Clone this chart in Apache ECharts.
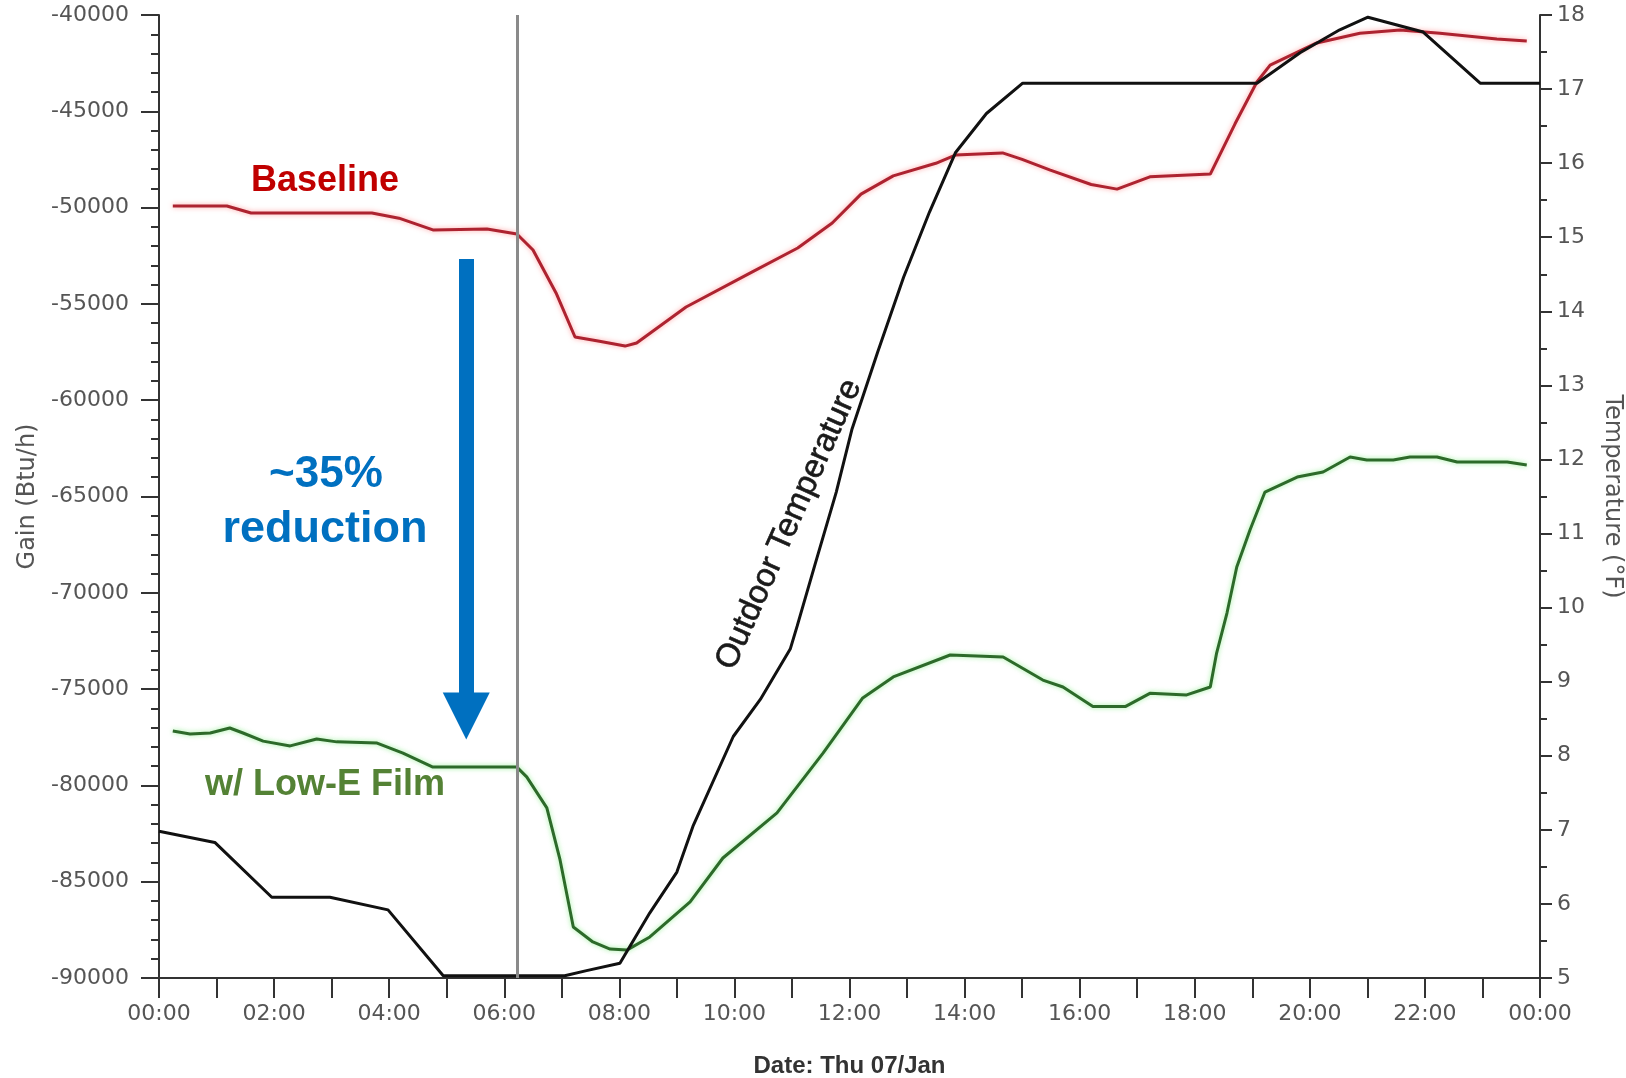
<!DOCTYPE html>
<html>
<head>
<meta charset="utf-8">
<title>Gain vs Outdoor Temperature</title>
<script src="https://cdn.jsdelivr.net/npm/echarts@6.0.0/dist/echarts.min.js"></script>
<style>
    html, body {margin: 0; padding: 0; background: #fff;}
    #chart {width: 1626px; height: 1078px;}
</style>
</head>
<body>
<div id="chart"></div>
<script>
    // 基准线 (Baseline) - 小时 / Btu/h
    var baseHours = [0.24, 1.18, 1.6, 3.7, 4.17, 4.76, 5.7, 6.22, 6.5, 6.9, 7.23, 7.63, 8.1, 8.3, 9.16,
        10.27, 11.1, 11.7, 12.2, 12.76, 13.5, 13.84, 14.66, 15.0, 15.49, 16.2, 16.65, 17.22, 18.27, 18.7,
        19.08, 19.31, 20.12, 20.87, 21.57, 22.26, 23.25, 23.77];
    var baseGain = [-49920, -49920, -50280, -50280, -50550, -51160, -51110, -51370, -52200, -54430, -56720,
        -56930, -57190, -57030, -55160, -53400, -52100, -50800, -49300, -48350, -47700, -47270, -47160,
        -47500, -48050, -48800, -49040, -48400, -48260, -45650, -43480, -42600, -41450, -40950, -40780,
        -40950, -41250, -41350];

    // Low-E 膜
    var lowHours = [0.24, 0.54, 0.89, 1.23, 1.46, 1.81, 2.28, 2.74, 3.09, 3.79, 4.24, 4.76, 6.22, 6.39,
        6.74, 6.97, 7.2, 7.54, 7.84, 8.13, 8.53, 9.23, 9.8, 10.74, 11.54, 12.23, 12.76, 13.75, 14.67, 15.36,
        15.71, 16.23, 16.8, 17.22, 17.86, 18.27, 18.38, 18.56, 18.73, 18.96, 19.22, 19.78, 20.23, 20.7,
        20.99, 21.45, 21.74, 22.21, 22.56, 23.43, 23.77];
    var lowGain = [-77180, -77330, -77280, -77020, -77280, -77700, -77950, -77590, -77740, -77800, -78320,
        -79050, -79050, -79560, -81170, -83870, -87350, -88130, -88500, -88550, -87870, -86050, -83770,
        -81430, -78320, -75460, -74370, -73230, -73330, -74530, -74890, -75900, -75900, -75220, -75300,
        -74890, -73130, -71050, -68660, -66740, -64770, -63990, -63730, -62950, -63100, -63100, -62950,
        -62950, -63210, -63210, -63360];

    // 室外温度 (°F)
    var tempHours = [0, 0.97, 1.96, 2.97, 3.98, 4.94, 7.05, 7.43, 8.01, 8.53, 9.0, 9.28, 9.98, 10.45,
        10.97, 11.09, 11.4, 11.77, 12.04, 12.49, 12.94, 13.39, 13.84, 14.38, 15.01, 19.08, 19.83, 20.52,
        21.01, 21.97, 22.96, 24];
    var tempF = [6.98, 6.83, 6.09, 6.09, 5.92, 5.03, 5.03, 5.1, 5.2, 5.88, 6.43, 7.05, 8.26, 8.76, 9.44,
        9.75, 10.58, 11.56, 12.4, 13.45, 14.46, 15.34, 16.14, 16.67, 17.08, 17.08, 17.49, 17.8, 17.97,
        17.77, 17.08, 17.08];

    var cursorHour = 6.22;          // 竖线
    var arrowHour = 5.34;           // 蓝色箭头
    var arrowFrom = -52670;
    var arrowTo = -76400;

    function zip(xs, ys) {
        return xs.map(function (x, i) { return [x, ys[i]]; });
    }

    var axisColor = '#333';
    var labelColor = '#555';
    var tickFont = 'DejaVu Sans';

    var chart = echarts.init(document.getElementById('chart'));

    function note(coord, text, style) {
        return {
            coord: coord,
            symbol: 'circle',
            symbolSize: 0,
            label: Object.assign({
                show: true,
                position: 'inside',
                formatter: text,
                fontFamily: 'Liberation Sans',
                fontWeight: 'bold'
            }, style)
        };
    }

    var option = {
        animation: false,
        backgroundColor: '#fff',
        grid: {left: 159, right: 86, top: 15, bottom: 100, outerBoundsMode: 'none', containLabel: false},
        xAxis: {
            type: 'value',
            min: 0,
            max: 24,
            interval: 2,
            name: 'Date: Thu 07/Jan',
            nameLocation: 'middle',
            nameGap: 76,
            nameTextStyle: {fontFamily: 'Liberation Sans', fontWeight: 'bold', fontSize: 24, color: '#333'},
            axisLine: {lineStyle: {color: axisColor, width: 2}},
            axisTick: {length: 20, lineStyle: {color: axisColor, width: 2}},
            minorTick: {show: true, splitNumber: 2, length: 20, lineStyle: {color: axisColor, width: 2}},
            splitLine: {show: false},
            axisLabel: {
                margin: 25,
                fontFamily: tickFont,
                fontSize: 22,
                color: labelColor,
                formatter: function (v) {
                    var h = v % 24;
                    return (h < 10 ? '0' : '') + h + ':00';
                }
            }
        },
        yAxis: [{
            type: 'value',
            min: -90000,
            max: -40000,
            interval: 5000,
            name: 'Gain (Btu/h)',
            nameLocation: 'middle',
            nameGap: 113,
            nameTextStyle: {fontFamily: tickFont, fontSize: 24, color: labelColor},
            axisLine: {show: true, lineStyle: {color: axisColor, width: 2}},
            axisTick: {show: true, length: 18, lineStyle: {color: axisColor, width: 2}},
            minorTick: {show: true, splitNumber: 5, length: 8, lineStyle: {color: axisColor, width: 2}},
            splitLine: {show: false},
            axisLabel: {
                margin: 30, fontFamily: tickFont, fontSize: 22, color: labelColor,
                formatter: function (v) { return String(v); }
            }
        }, {
            type: 'value',
            position: 'right',
            min: 5,
            max: 18,
            interval: 1,
            name: 'Temperature (°F)',
            nameLocation: 'middle',
            nameRotate: -90,
            nameGap: 60,
            nameTextStyle: {fontFamily: tickFont, fontSize: 24, color: labelColor},
            axisLine: {show: true, lineStyle: {color: axisColor, width: 2}},
            axisTick: {show: true, length: 12, lineStyle: {color: axisColor, width: 2}},
            minorTick: {show: true, splitNumber: 2, length: 7, lineStyle: {color: axisColor, width: 2}},
            splitLine: {show: false},
            axisLabel: {margin: 17, fontFamily: tickFont, fontSize: 22, color: labelColor}
        }],
        series: [{
            name: 'Baseline',
            type: 'line',
            yAxisIndex: 0,
            showSymbol: false,
            data: zip(baseHours, baseGain),
            lineStyle: {color: '#ad2330', width: 3, shadowColor: 'rgba(255,90,90,0.55)', shadowBlur: 5},
            markLine: {
                silent: true,
                symbol: 'none',
                label: {show: false},
                lineStyle: {color: '#8a8a8a', width: 3, type: 'solid'},
                data: [{xAxis: cursorHour}]
            },
            markPoint: {
                silent: true,
                data: [
                    note([2.885, -48620], 'Baseline', {fontSize: 36, color: '#c00000'}),
                    note([2.9, -63880], '~35%', {fontSize: 44, color: '#0070c0'}),
                    note([2.885, -66740], 'reduction', {fontSize: 45, color: '#0070c0'}),
                    note([2.885, -79980], 'w/ Low-E Film', {fontSize: 36, color: '#548235'})
                ]
            }
        }, {
            name: 'w/ Low-E Film',
            type: 'line',
            yAxisIndex: 0,
            showSymbol: false,
            data: zip(lowHours, lowGain),
            lineStyle: {color: '#2d6a2a', width: 3, shadowColor: 'rgba(90,230,90,0.6)', shadowBlur: 5},
            markLine: {
                silent: true,
                symbol: ['none', 'triangle'],
                symbolSize: [47, 47],
                label: {show: false},
                lineStyle: {color: '#0070c0', width: 15, type: 'solid'},
                itemStyle: {color: '#0070c0'},
                data: [[{coord: [arrowHour, arrowFrom]}, {coord: [arrowHour, arrowTo]}]]
            }
        }, {
            name: 'Outdoor Temperature',
            type: 'line',
            yAxisIndex: 1,
            showSymbol: false,
            data: zip(tempHours, tempF),
            lineStyle: {color: '#111', width: 3},
            markPoint: {
                silent: true,
                data: [
                    note([10.95, 11.12], 'Outdoor Temperature',
                        {fontSize: 33, fontWeight: 'normal', color: '#1a1a1a', rotate: 66,
                            textBorderColor: '#1a1a1a', textBorderWidth: 0.6})
                ]
            }
        }]
    };

    chart.setOption(option);
</script>
</body>
</html>
